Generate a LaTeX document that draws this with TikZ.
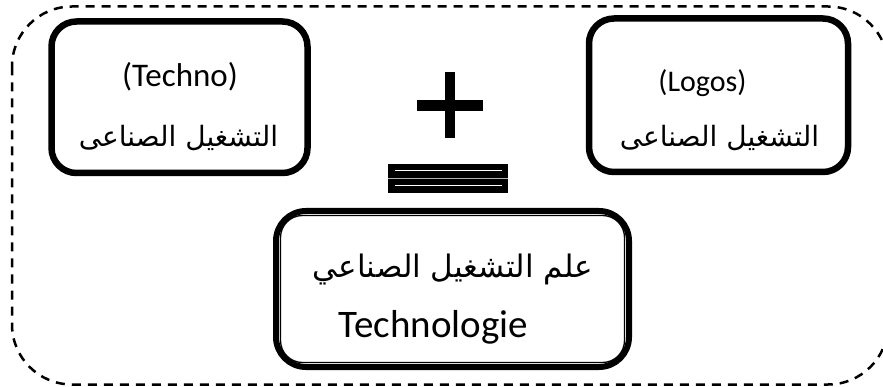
\documentclass[tikz,border=0pt]{standalone}
\usepackage{fontspec}
\setmainfont{Carlito}
\newfontfamily\arabicfont[Script=Arabic]{DejaVu Sans}
\TeXXeTstate=1
\begin{document}
\begin{tikzpicture}[x=1pt,y=-1pt,
  box/.style={draw,line width=6.5pt,rounded corners=25pt,inner sep=0pt},
  latin/.style={anchor=base,inner sep=0pt},
  arab/.style={anchor=base,inner sep=0pt}]
\useasboundingbox (0,0) rectangle (883,387);
\begin{scope}
\clip (0,0) rectangle (883,387);
\draw[line width=2.5pt,dash pattern=on 9pt off 7pt,rounded corners=60pt] (12,6.5) rectangle (888,384.5);
\end{scope}
% left box
\node[box,minimum width=256pt,minimum height=151.5pt] (lb) at (179.5,97.25) {};
\node[latin,font=\fontsize{33}{38}\selectfont] (lt) at (180,87) {(Techno)};
\node[arab,font=\fontsize{28}{33}\selectfont] (la) at (178.5,147) {\arabicfont\beginR التشغيل الصناعى\endR};
% right box
\node[box,minimum width=259pt,minimum height=153.5pt] (rb) at (718.5,95.25) {};
\node[latin,font=\fontsize{30}{35}\selectfont] (rt) at (702.5,92) {(Logos)};
\node[arab,font=\fontsize{28}{33}\selectfont] (ra) at (719.5,147) {\arabicfont\beginR التشغيل الصناعى\endR};
% plus
\fill (445,72) rectangle (455,138);
\fill (417,100) rectangle (483,111);
% equals
\fill (388,164) rectangle (508,193);
\draw[gray!60,line width=0.8pt] (388,178.5) -- (508,178.5);
\draw[white,line width=1pt] (395,171) -- (502,171);
\draw[white,line width=1pt] (395,186) -- (502,186);
% bottom box
\node[draw,line width=6pt,rounded corners=30pt,inner sep=0pt,minimum width=353pt,minimum height=156pt] (bb) at (452.5,289) {};
\draw[line width=1.3pt,rounded corners=22pt] ([shift={(7.5,7.5)}]bb.north west) rectangle ([shift={(-7.5,-7.5)}]bb.south east);
\node[arab,font=\fontsize{31}{36}\selectfont] (ba) at (453,277) {\arabicfont\beginR علم التشغيل الصناعي\endR};
\node[latin,font=\fontsize{39}{45}\selectfont] (bt) at (433.5,337) {Technologie};
\end{tikzpicture}
\end{document}
